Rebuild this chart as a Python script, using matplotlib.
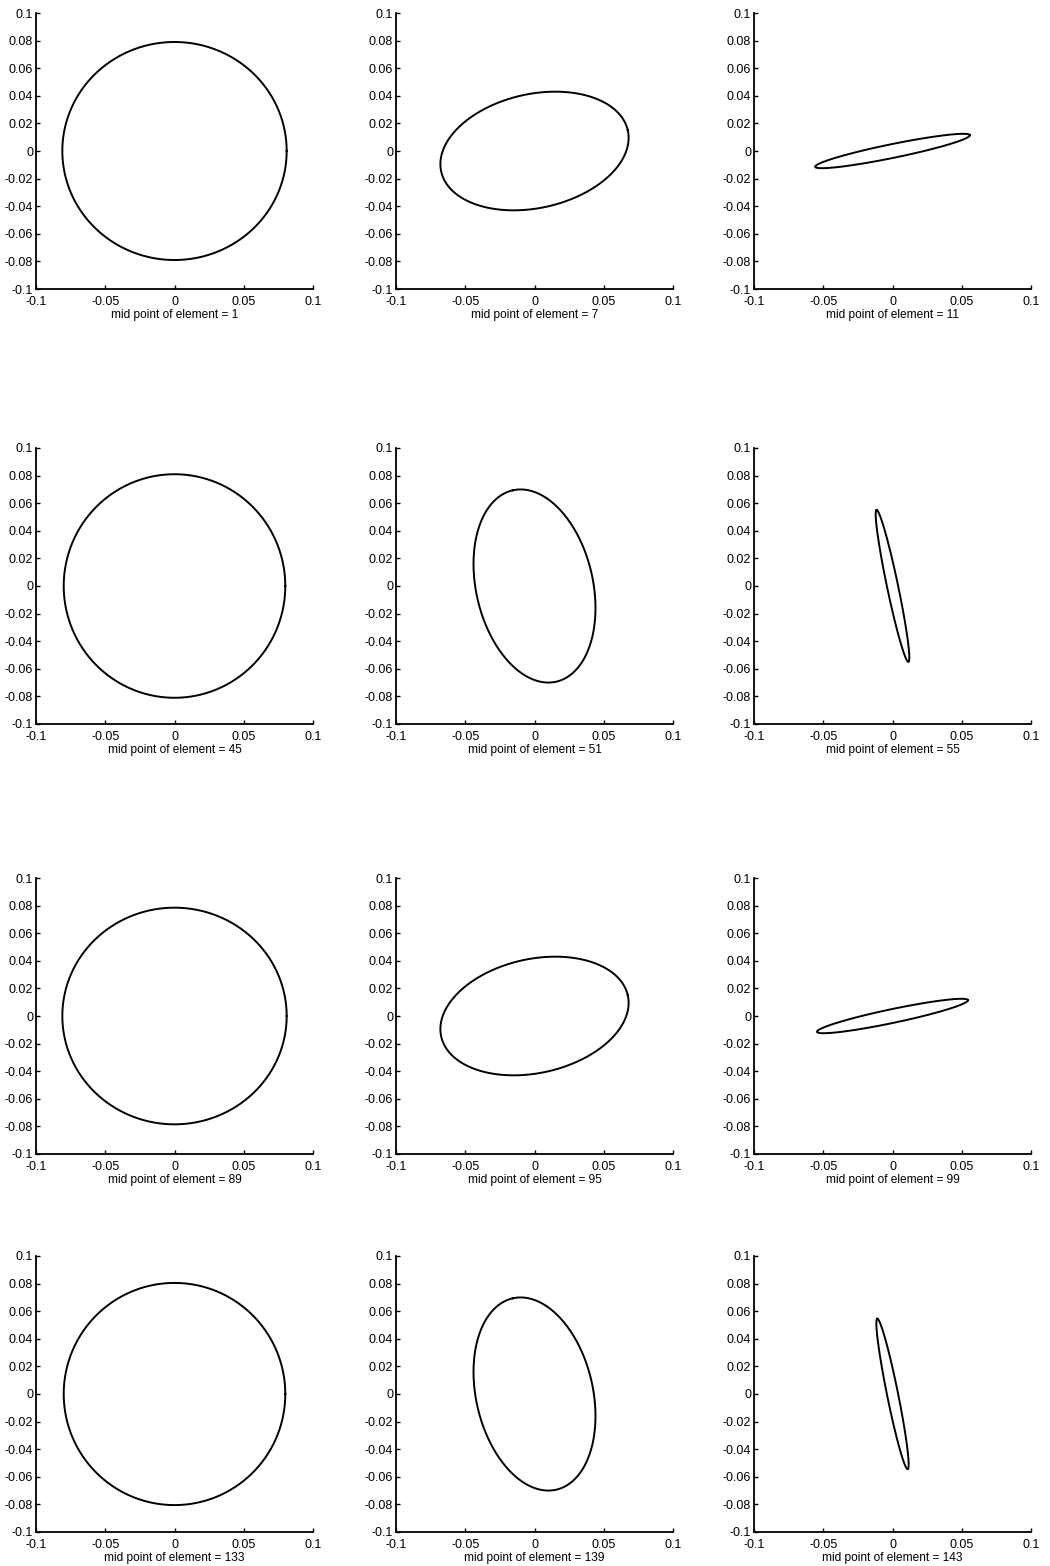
import numpy as np
import matplotlib
matplotlib.use("Agg")
import matplotlib.pyplot as plt

# Data: ellipse parameters per panel
elements = [1, 7, 11, 45, 51, 55, 89, 95, 99, 133, 139, 143]
semi_a = [0.081, 0.069, 0.057, 0.080, 0.0711, 0.0562, 0.081, 0.069, 0.0557, 0.0800, 0.0711, 0.0556]
semi_b = [0.079, 0.0413, 0.0050, 0.081, 0.0422, 0.0040, 0.0785, 0.0413, 0.0050, 0.0805, 0.0422, 0.0040]
angle_deg = [0.0, 12.5, 11.6, 0.0, 102.7, 101.8, 0.0, 12.5, 11.9, 0.0, 102.7, 101.4]
x_ticks = [-0.1, -0.05, 0, 0.05, 0.1]
x_ticklabels = ["-0.1", "-0.05", "0", "0.05", "0.1"]
y_ticks = [-0.1, -0.08, -0.06, -0.04, -0.02, 0, 0.02, 0.04, 0.06, 0.08, 0.1]
y_ticklabels = ["-0.1", "-0.08", "-0.06", "-0.04", "-0.02", "0", "0.02", "0.04", "0.06", "0.08", "0.1"]

W, H = 1050, 1566
fig = plt.figure(figsize=(W / 100, H / 100), dpi=100)
plt.rcParams['font.family'] = ['Liberation Sans', 'DejaVu Sans']

col_left = [36, 396, 754]
row_top = [13, 448, 878, 1256]
aw, ah = 277, 276

t = np.linspace(0, 2 * np.pi, 400)
for i, el in enumerate(elements):
    r, c = divmod(i, 3)
    l = col_left[c]
    top = row_top[r]
    ax = fig.add_axes([l / W, 1 - (top + ah) / H, aw / W, ah / H])
    a, b, th = semi_a[i], semi_b[i], np.deg2rad(angle_deg[i])
    xs = a * np.cos(t) * np.cos(th) - b * np.sin(t) * np.sin(th)
    ys = a * np.cos(t) * np.sin(th) + b * np.sin(t) * np.cos(th)
    ax.plot(xs, ys, color='black', lw=1.4)
    ax.set_xlim(-0.1, 0.1)
    ax.set_ylim(-0.1, 0.1)
    ax.set_xticks(x_ticks)
    ax.set_xticklabels(x_ticklabels)
    ax.set_yticks(y_ticks)
    ax.set_yticklabels(y_ticklabels)
    ax.spines['top'].set_visible(False)
    ax.spines['right'].set_visible(False)
    for s in ('left', 'bottom'):
        ax.spines[s].set_linewidth(1.3)
    ax.tick_params(direction='in', length=3, width=1, labelsize=9)
    ax.tick_params(axis='y', pad=2)
    ax.tick_params(axis='x', pad=5)
    ax.set_xlabel(f"mid point of element = {el}", fontsize=8.6, labelpad=1)

fig.savefig("out.png", dpi=100, facecolor='white')
